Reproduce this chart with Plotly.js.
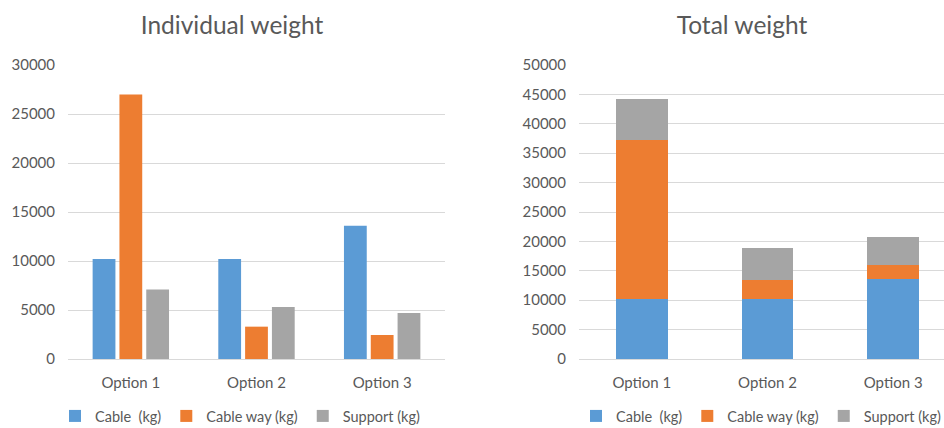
<!DOCTYPE html>
<html>
<head>
<meta charset="utf-8">
<script src="https://cdn.plot.ly/plotly-3.0.1.min.js"></script>
<style>
  html, body { margin: 0; padding: 0; width: 944px; height: 428px; overflow: hidden; background: #fff; }
  #individual { position: absolute; left: 0; top: 0; width: 472px; height: 428px; }
  #total { position: absolute; left: 472px; top: 0; width: 500px; height: 428px; }
</style>
</head>
<body>
<div id="individual"></div>
<div id="total"></div>
<script>
// Weight per option, in kg
const options = ["Option 1", "Option 2", "Option 3"];
const cableKg = [10200, 10200, 13600];
const cableWayKg = [27000, 3300, 2450];
const supportKg = [7100, 5300, 4700];

const seriesNames = ["Cable  (kg)", "Cable way (kg)", "Support (kg)"];
const seriesColors = ["#5B9BD5", "#ED7D31", "#A5A5A5"];
const seriesValues = [cableKg, cableWayKg, supportKg];

const FONT = "Lato, 'Open Sans', sans-serif";
const TEXT = "#595959";
const GRID = "#D9D9D9";

function traces() {
  return seriesValues.map((vals, i) => ({
    type: "bar",
    name: seriesNames[i],
    x: options,
    y: vals,
    marker: { color: seriesColors[i] },
    hoverinfo: "x+y+name"
  }));
}

function baseLayout(title, titleX, legendX, yMax, plotLeft, plotRight) {
  return {
    margin: { l: plotLeft, r: plotRight, t: 65, b: 69 },
    paper_bgcolor: "#fff",
    plot_bgcolor: "#fff",
    font: { family: FONT, color: TEXT, size: 14 },
    title: {
      text: title,
      font: { family: FONT, size: 24.5, color: TEXT },
      xref: "container", x: titleX, xanchor: "center",
      yref: "container", y: 1 - 25 / 428, yanchor: "middle"
    },
    xaxis: {
      type: "category",
      showgrid: false,
      showline: false,
      zeroline: false,
      ticks: "",
      ticklabelstandoff: 13,
      tickfont: { family: FONT, size: 15, color: TEXT },
      fixedrange: true
    },
    yaxis: {
      range: [0, yMax],
      dtick: 5000,
      tick0: 0,
      showgrid: true,
      gridcolor: GRID,
      gridwidth: 1,
      zeroline: true,
      zerolinecolor: GRID,
      zerolinewidth: 1,
      showline: false,
      ticks: "",
      ticklabelstandoff: 12,
      tickformat: "d",
      tickfont: { family: FONT, size: 15, color: TEXT },
      fixedrange: true
    },
    showlegend: true,
    legend: {
      orientation: "h",
      xref: "container", x: legendX, xanchor: "center",
      yref: "container", y: 1 - 416 / 428, yanchor: "middle",
      font: { family: FONT, size: 14.5, color: TEXT },
      itemwidth: 30,
      traceorder: "normal"
    }
  };
}

// Left: grouped bars, one per component
const leftLayout = baseLayout("Individual weight", 232 / 472, 240 / 472, 30000, 68, 27);
leftLayout.barmode = "group";
leftLayout.bargap = 0.36;
leftLayout.bargroupgap = 0.15;
Plotly.newPlot("individual", traces(), leftLayout, { displayModeBar: false });

// Right: stacked bars giving the total per option
const rightLayout = baseLayout("Total weight", (742 - 472) / 500, (761 - 472) / 500, 50000, 107, 16);
rightLayout.barmode = "stack";
rightLayout.bargap = 0.59;
Plotly.newPlot("total", traces(), rightLayout, { displayModeBar: false });
</script>
</body>
</html>
